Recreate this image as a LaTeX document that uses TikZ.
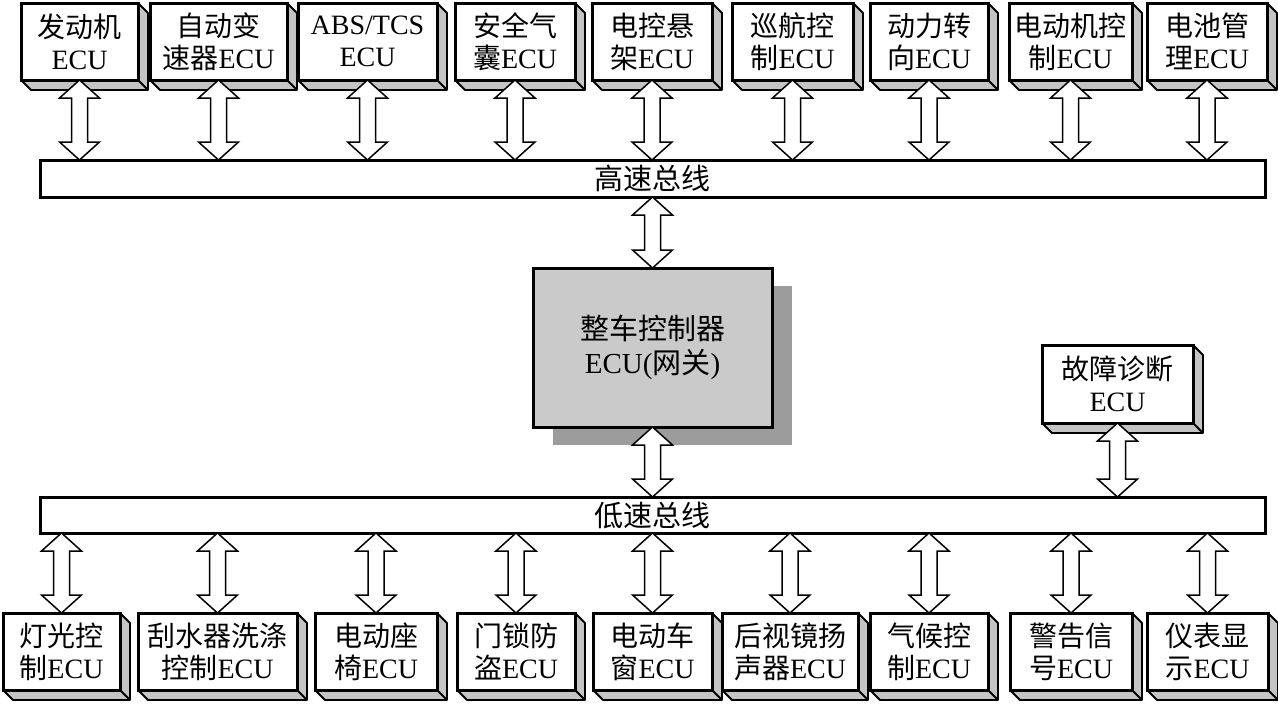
\documentclass[tikz,border=0pt]{standalone}
\usepackage{fontspec}
\setmainfont{Liberation Serif}
\newfontfamily\cjk{Noto Sans CJK SC}
\usetikzlibrary{calc,backgrounds}
\definecolor{sidegray}{HTML}{C4C4C4}
\definecolor{gwgray}{HTML}{CACACA}
\definecolor{shadowgray}{HTML}{9C9C9C}
\tikzset{
  ecu/.style={draw, line width=3pt, fill=white, minimum height=77pt, inner sep=0pt,
    outer sep=0pt, align=center, font=\fontsize{28}{32}\selectfont},
  sideface/.style={draw, fill=sidegray, line width=1.8pt, line join=round},
  bus/.style={draw, line width=3pt, fill=white, minimum width=1225pt, inner sep=0pt,
    outer sep=0pt, font=\fontsize{29}{32}\selectfont\cjk},
  gateway/.style={draw, line width=3pt, fill=gwgray, minimum width=239pt, minimum height=159pt,
    inner sep=0pt, outer sep=0pt, align=center, font=\fontsize{29}{34}\selectfont},
  dbl/.style={draw, fill=white, line width=1.5pt, line join=miter},
}
\newcommand\boxsides[1]{%
  \begin{scope}[on background layer]
    \filldraw[sideface] (#1.north east) -- ($(#1.north east)+(10,10)$)
      -- ($(#1.south east)+(10,10)$) -- ($(#1.south west)+(10,10)$)
      -- (#1.south west) -- (#1.south east) -- cycle;
    \draw[sideface] (#1.south east) -- ($(#1.south east)+(10,10)$);
  \end{scope}}
\newcommand\dblarrow[2]{%
  \draw[dbl] let \p1=(#1), \p2=(#2) in
    (\x1,\y1) -- (\x1+20pt,\y1-18pt) -- (\x1+8pt,\y1-18pt) -- (\x1+8pt,\y2+18pt)
    -- (\x1+20pt,\y2+18pt) -- (\x1,\y2) -- (\x1-20pt,\y2+18pt) -- (\x1-8pt,\y2+18pt)
    -- (\x1-8pt,\y1-18pt) -- (\x1-20pt,\y1-18pt) -- cycle;}
\begin{document}
\begin{tikzpicture}[x=1pt,y=-1pt]
\useasboundingbox (0,0) rectangle (1278,705);
% top row
\node[ecu, minimum width=117pt] (t1) at (79.5,41.5) {{\cjk 发动机}\\ECU};
\node[ecu, minimum width=137pt] (t2) at (218.5,41.5) {{\cjk 自动变}\\{\cjk 速器}ECU};
\node[ecu, minimum width=139pt] (t3) at (367.5,41.5) {ABS/TCS\\ECU};
\node[ecu, minimum width=120pt] (t4) at (515,41.5) {{\cjk 安全气}\\{\cjk 囊}ECU};
\node[ecu, minimum width=120pt] (t5) at (652,41.5) {{\cjk 电控悬}\\{\cjk 架}ECU};
\node[ecu, minimum width=121pt] (t6) at (792.5,41.5) {{\cjk 巡航控}\\{\cjk 制}ECU};
\node[ecu, minimum width=118pt] (t7) at (929,41.5) {{\cjk 动力转}\\{\cjk 向}ECU};
\node[ecu, minimum width=123pt] (t8) at (1070.5,41.5) {{\cjk 电动机控}\\{\cjk 制}ECU};
\node[ecu, minimum width=120pt] (t9) at (1207,41.5) {{\cjk 电池管}\\{\cjk 理}ECU};
% bottom row
\node[ecu, minimum width=117pt] (b1) at (61.5,651.5) {{\cjk 灯光控}\\{\cjk 制}ECU};
\node[ecu, minimum width=159pt] (b2) at (217.5,651.5) {{\cjk 刮水器洗涤}\\{\cjk 控制}ECU};
\node[ecu, minimum width=122pt] (b3) at (376,651.5) {{\cjk 电动座}\\{\cjk 椅}ECU};
\node[ecu, minimum width=118pt] (b4) at (516,651.5) {{\cjk 门锁防}\\{\cjk 盗}ECU};
\node[ecu, minimum width=119pt] (b5) at (652.5,651.5) {{\cjk 电动车}\\{\cjk 窗}ECU};
\node[ecu, minimum width=136pt] (b6) at (790,651.5) {{\cjk 后视镜扬}\\{\cjk 声器}ECU};
\node[ecu, minimum width=118pt] (b7) at (929,651.5) {{\cjk 气候控}\\{\cjk 制}ECU};
\node[ecu, minimum width=122pt] (b8) at (1071,651.5) {{\cjk 警告信}\\{\cjk 号}ECU};
\node[ecu, minimum width=121pt] (b9) at (1207.5,651.5) {{\cjk 仪表显}\\{\cjk 示}ECU};
% fault diagnosis
\node[ecu, minimum width=151pt, minimum height=78pt] (fd) at (1117.5,384) {{\cjk 故障诊断}\\ECU};
% 3D sides
\foreach \k in {t1,t2,t3,t4,t5,t6,t7,t8,t9,b1,b2,b3,b4,b5,b6,b7,b8,b9,fd} {\boxsides{\k}}
% buses
\node[bus, minimum height=37pt] (hbus) at (652.5,178.5) {高速总线};
\node[bus, minimum height=36pt] (lbus) at (652.5,515) {低速总线};
% gateway
\node[gateway] (gw) at (652.5,347.5) {{\cjk 整车控制器}\\ECU({\cjk 网关})};
\begin{scope}[on background layer]
  \fill[shadowgray] ($(gw.north west)+(20,18)$) rectangle ($(gw.south east)+(20,18)$);
\end{scope}
% arrows
\foreach \k in {t1,t2,t3,t4,t5,t6,t7,t8,t9} {\dblarrow{\k.south}{\k.south |- hbus.north}}
\foreach \k in {b1,b2,b3,b4,b5,b6,b7,b8,b9} {\dblarrow{\k.north |- lbus.south}{\k.north}}
\dblarrow{gw.north |- hbus.south}{gw.north}
\dblarrow{gw.south}{gw.south |- lbus.north}
\dblarrow{fd.south}{fd.south |- lbus.north}
\end{tikzpicture}
\end{document}
